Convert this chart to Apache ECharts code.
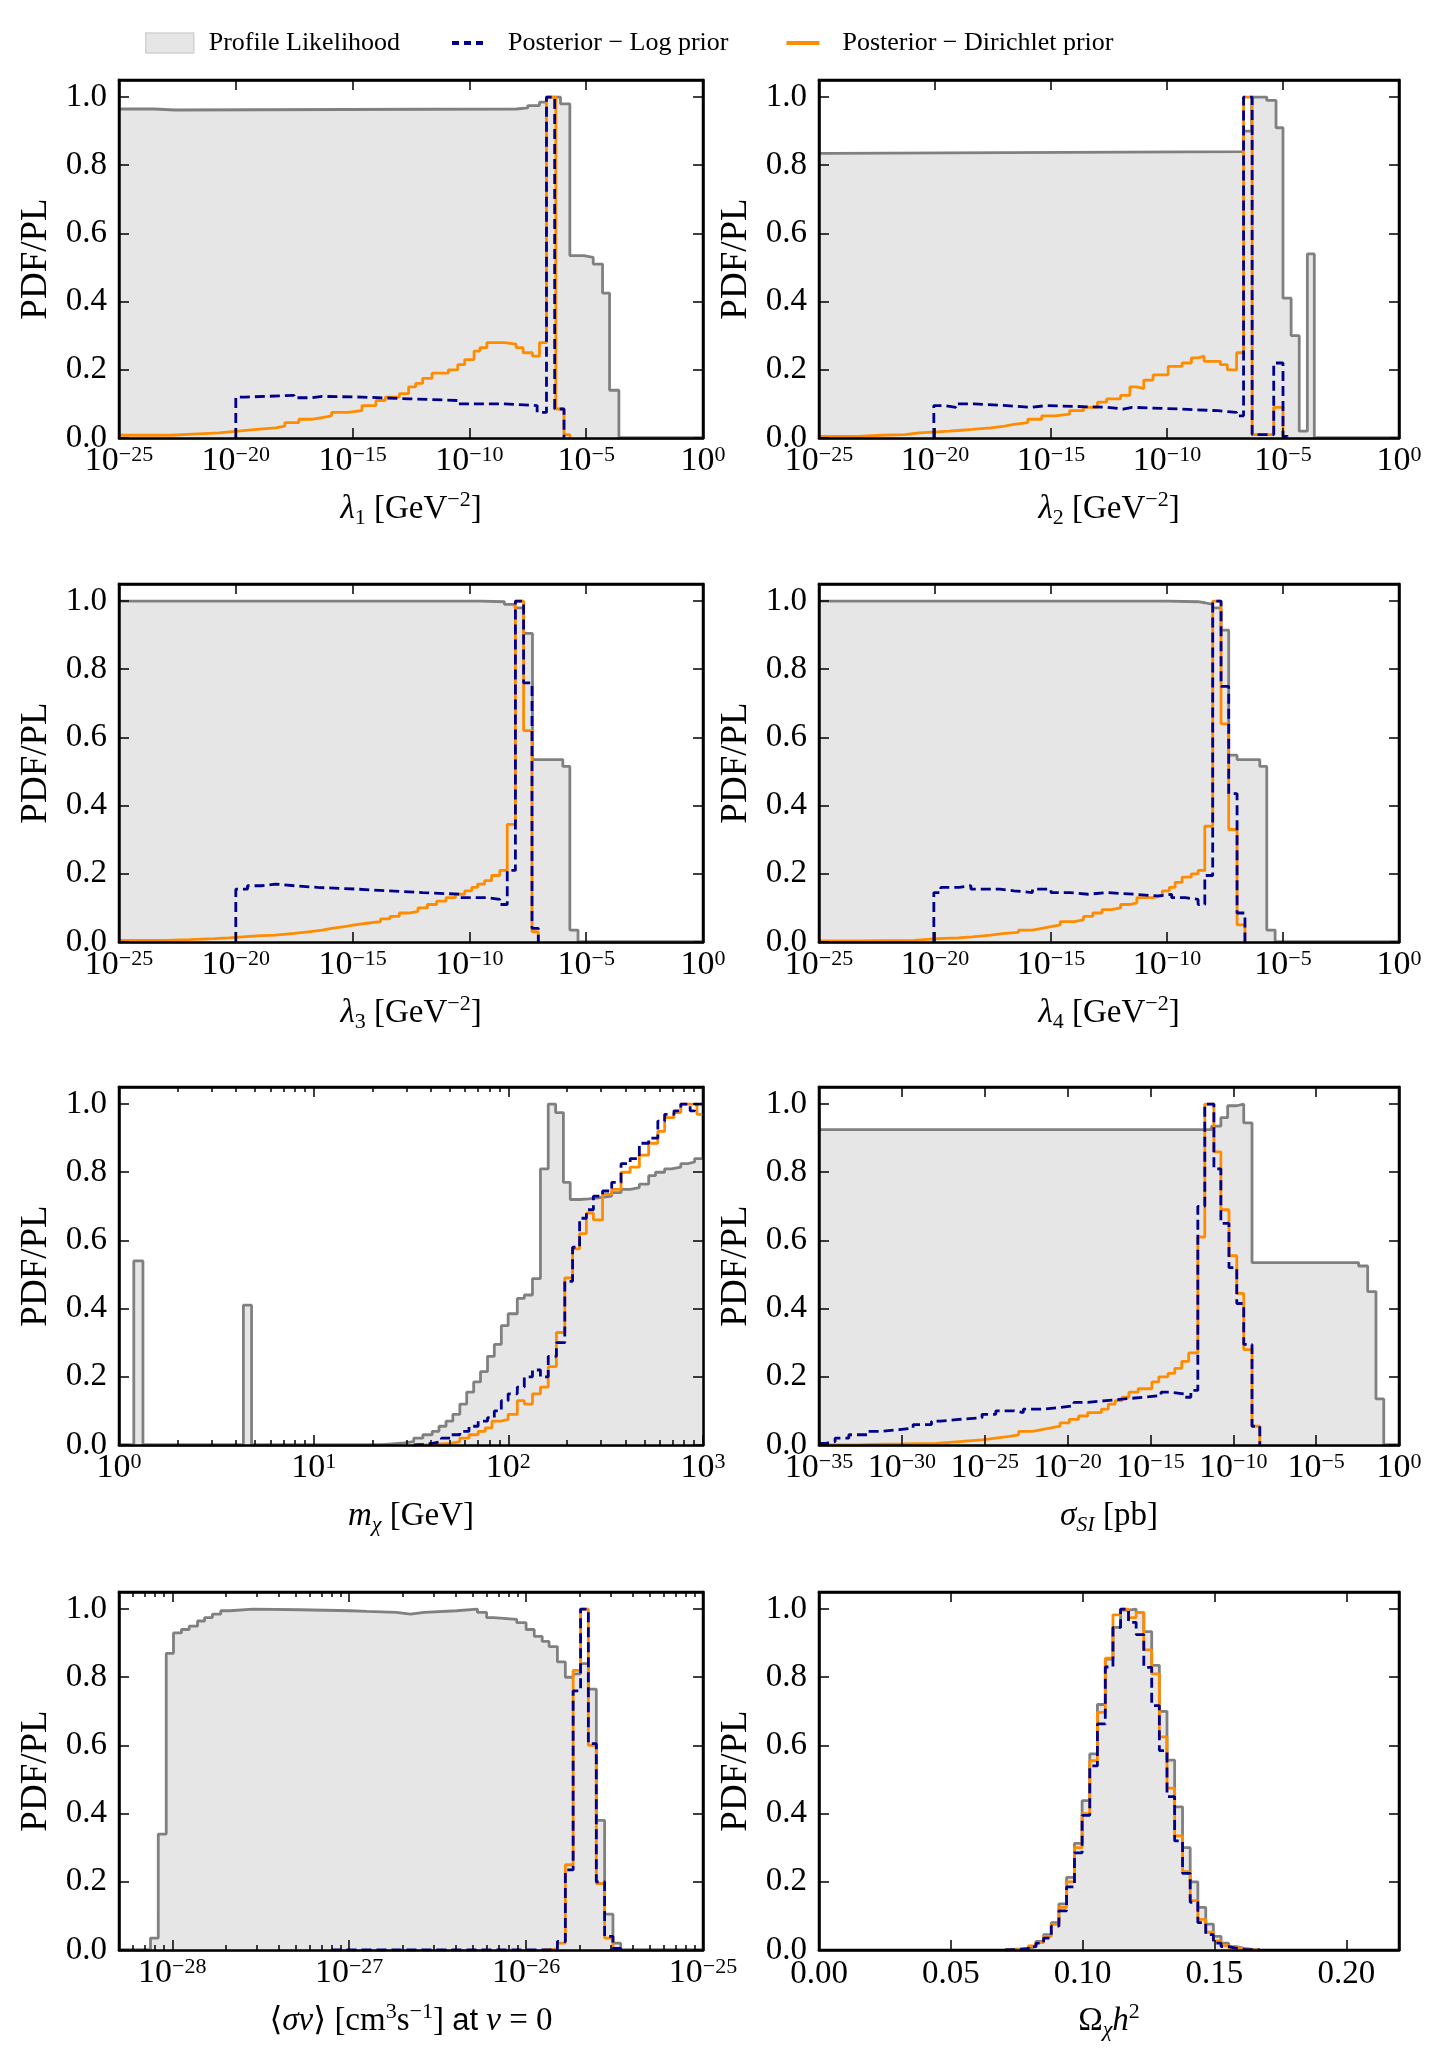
<!DOCTYPE html>
<html><head><meta charset="utf-8">
<script src="https://cdn.jsdelivr.net/npm/echarts@6/dist/echarts.min.js"></script>
<style>html,body{margin:0;padding:0;background:#fff}#c{width:1443px;height:2062px}</style>
</head><body><div id="c"></div>
<script>
// ---------------- tick labels / axis values ----------------
const lamTicks = [-25, -20, -15, -10, -5, 0];
const sigTicks = [-35, -30, -25, -20, -15, -10, -5, 0];
const mchiTicks = [0, 1, 2, 3];
const svTicks = [-28, -27, -26, -25];
const omegaTicks = [0, 0.05, 0.10, 0.15, 0.20];
const yTicks = [0, 0.2, 0.4, 0.6, 0.8, 1.0];
const seriesNames = ['Profile Likelihood', 'Posterior \u2212 Log prior', 'Posterior \u2212 Dirichlet prior'];

// ---------------- data: [log10(x) bin start, height] step breakpoints ----------------
const lam1PL = [[-25,0.965],[-23.5,0.962],[-22.6,0.965],[-8.0,0.968],[-7.5,0.975],[-7.0,0.985],[-6.7,1.0],[-6.1,0.98],[-5.7,0.535],[-5.1,0.53],[-4.7,0.51],[-4.3,0.425],[-4.0,0.14],[-3.6,0],[0,0]];
const lam1Log = [[-20,0.12],[-19.6,0.125],[-17.5,0.118],[-16.8,0.122],[-16.3,0.12],[-14.6,0.115],[-12.6,0.11],[-10.5,0.1],[-8.5,0.095],[-7.1,0.075],[-6.7,1.0],[-6.35,0.085],[-5.95,0]];
const lam1Dir = [[-25,0.008],[-22.8,0.012],[-21.6,0.015],[-20.7,0.02],[-19.9,0.025],[-19.1,0.03],[-18.3,0.035],[-17.9,0.045],[-17.3,0.055],[-16.7,0.06],[-16.3,0.065],[-15.9,0.075],[-15.2,0.08],[-14.6,0.095],[-14.0,0.11],[-13.6,0.12],[-13.0,0.13],[-12.6,0.15],[-12.3,0.16],[-12.0,0.175],[-11.6,0.19],[-10.9,0.2],[-10.5,0.215],[-10.2,0.23],[-9.8,0.255],[-9.55,0.265],[-9.25,0.28],[-8.5,0.275],[-8.0,0.265],[-7.7,0.25],[-7.3,0.24],[-7.0,0.28],[-6.7,1.0],[-6.3,0.085],[-5.95,0.01],[-5.7,0]];

const lam2PL = [[-25,0.835],[-24.5,0.84],[-6.7,0.9],[-6.35,1.0],[-5.7,0.99],[-5.3,0.91],[-5.0,0.41],[-4.65,0.3],[-4.3,0.02],[-3.95,0.54],[-3.65,0],[0,0]];
const lam2Log = [[-20.05,0.095],[-19.6,0.09],[-19.1,0.1],[-18.3,0.095],[-16.9,0.09],[-15.9,0.095],[-15.2,0.09],[-12.6,0.085],[-11.9,0.09],[-11.5,0.085],[-9.5,0.08],[-7.8,0.075],[-7.0,0.065],[-6.7,1.0],[-6.33,0.01],[-5.4,0.22],[-5.0,0.005],[-4.8,0]];
const lam2Dir = [[-25,0.005],[-23.3,0.008],[-22.3,0.01],[-21.3,0.015],[-20.7,0.018],[-19.9,0.02],[-19.4,0.022],[-19.0,0.025],[-18.4,0.03],[-17.6,0.035],[-17.0,0.04],[-16.6,0.045],[-16.0,0.055],[-15.4,0.065],[-14.8,0.07],[-14.2,0.08],[-13.6,0.09],[-13.0,0.105],[-12.6,0.115],[-12.0,0.125],[-11.6,0.15],[-11.3,0.145],[-11.0,0.17],[-10.6,0.185],[-9.95,0.21],[-9.35,0.22],[-8.95,0.235],[-8.65,0.24],[-8.4,0.225],[-7.7,0.215],[-7.4,0.2],[-7.0,0.25],[-6.7,1.0],[-6.33,0.01],[-5.4,0.09],[-5.0,0]];

const lam3PL = [[-25,1.0],[-9.5,0.998],[-8.5,0.99],[-8.05,0.98],[-7.68,0.905],[-7.3,0.535],[-6.0,0.515],[-5.7,0.035],[-5.35,0],[0,0]];
const lam3Log = [[-20,0.155],[-19.5,0.165],[-18.9,0.17],[-18.3,0.165],[-17.5,0.16],[-16.5,0.155],[-14.8,0.15],[-13.4,0.145],[-12.0,0.14],[-10.4,0.13],[-9.2,0.125],[-8.7,0.11],[-8.38,0.21],[-8.03,1.0],[-7.68,0.76],[-7.32,0.04],[-7.05,0]];
const lam3Dir = [[-25,0.005],[-23,0.007],[-22,0.01],[-20.9,0.012],[-20.3,0.015],[-19.7,0.018],[-19.1,0.02],[-18.3,0.025],[-17.5,0.03],[-16.9,0.035],[-16.3,0.04],[-15.9,0.045],[-15.35,0.05],[-14.9,0.055],[-14.4,0.06],[-13.8,0.068],[-13.4,0.075],[-13.0,0.085],[-12.6,0.09],[-12.2,0.1],[-11.8,0.11],[-11.4,0.12],[-11.0,0.13],[-10.6,0.14],[-10.2,0.15],[-9.9,0.16],[-9.65,0.17],[-9.35,0.18],[-9.05,0.195],[-8.7,0.21],[-8.38,0.345],[-8.03,1.0],[-7.68,0.62],[-7.32,0.03],[-7.05,0]];

const lam4PL = [[-25,1.0],[-10,0.998],[-8.66,0.995],[-8.37,0.99],[-8.03,0.98],[-7.67,0.915],[-7.34,0.548],[-6.98,0.535],[-6.0,0.515],[-5.7,0.035],[-5.34,0],[0,0]];
const lam4Log = [[-20.05,0.145],[-19.75,0.16],[-18.95,0.165],[-18.45,0.155],[-17.2,0.15],[-16.6,0.145],[-15.8,0.155],[-15.0,0.145],[-14.2,0.14],[-13.4,0.145],[-12.6,0.14],[-11.4,0.135],[-10.4,0.14],[-9.8,0.13],[-9.2,0.125],[-8.66,0.11],[-8.37,0.195],[-8.03,1.0],[-7.67,0.75],[-7.34,0.435],[-6.98,0.085],[-6.64,0]];
const lam4Dir = [[-25,0.003],[-23.3,0.005],[-20.9,0.01],[-19.9,0.012],[-19.0,0.015],[-18.4,0.02],[-17.6,0.025],[-17.0,0.028],[-16.4,0.035],[-15.8,0.04],[-15.4,0.045],[-15.0,0.05],[-14.6,0.06],[-14.0,0.065],[-13.6,0.075],[-13.2,0.085],[-12.8,0.095],[-12.4,0.1],[-12.0,0.11],[-11.6,0.115],[-11.3,0.13],[-10.6,0.135],[-10.2,0.15],[-9.9,0.16],[-9.65,0.175],[-9.35,0.19],[-8.95,0.2],[-8.66,0.21],[-8.37,0.34],[-8.03,1.0],[-7.67,0.64],[-7.34,0.33],[-6.98,0.05],[-6.64,0]];

const mchiPL = [[0,0],[0.076,0.54],[0.123,0],[0.639,0.41],[0.681,0],[1.325,0.002],[1.372,0.004],[1.419,0.006],[1.467,0.01],[1.514,0.02],[1.561,0.03],[1.609,0.04],[1.644,0.055],[1.68,0.07],[1.715,0.09],[1.751,0.12],[1.786,0.155],[1.822,0.185],[1.857,0.215],[1.893,0.26],[1.928,0.295],[1.964,0.35],[1.999,0.385],[2.046,0.43],[2.082,0.44],[2.124,0.488],[2.165,0.81],[2.205,1.0],[2.243,0.975],[2.283,0.77],[2.318,0.72],[2.366,0.722],[2.413,0.725],[2.46,0.73],[2.531,0.74],[2.579,0.75],[2.626,0.755],[2.673,0.765],[2.721,0.79],[2.756,0.8],[2.803,0.81],[2.839,0.815],[2.886,0.825],[2.922,0.83],[2.957,0.84],[3.0,0.84]];
const mchiLog = [[1.514,0.002],[1.561,0.005],[1.609,0.01],[1.656,0.02],[1.703,0.03],[1.751,0.04],[1.798,0.055],[1.845,0.07],[1.893,0.08],[1.928,0.1],[1.964,0.13],[1.999,0.15],[2.046,0.17],[2.082,0.2],[2.124,0.22],[2.165,0.2],[2.205,0.26],[2.247,0.3],[2.29,0.48],[2.33,0.58],[2.366,0.665],[2.401,0.69],[2.437,0.73],[2.484,0.745],[2.531,0.77],[2.579,0.825],[2.626,0.84],[2.673,0.885],[2.721,0.9],[2.768,0.95],[2.803,0.97],[2.851,0.98],[2.886,1.0],[2.934,0.98],[2.957,1.0],[3.0,1.0]];
const mchiDir = [[1.514,0.001],[1.609,0.003],[1.656,0.005],[1.703,0.01],[1.751,0.02],[1.798,0.03],[1.845,0.04],[1.881,0.05],[1.916,0.07],[1.964,0.075],[1.999,0.09],[2.046,0.13],[2.082,0.12],[2.124,0.15],[2.165,0.17],[2.205,0.23],[2.247,0.33],[2.29,0.49],[2.33,0.575],[2.366,0.62],[2.401,0.68],[2.437,0.66],[2.484,0.735],[2.531,0.75],[2.579,0.8],[2.626,0.815],[2.673,0.85],[2.721,0.885],[2.768,0.92],[2.803,0.96],[2.851,0.975],[2.886,1.0],[2.969,0.97],[3.0,0.97]];

const sigPL = [[-35,0.925],[-11.31,0.935],[-10.75,0.96],[-10.34,0.995],[-9.79,1.0],[-9.37,0.945],[-8.87,0.535],[-2.44,0.525],[-1.89,0.45],[-1.39,0.135],[-0.92,0],[0,0]];
const sigLog = [[-35,0.005],[-34.58,0.01],[-34.03,0.02],[-33.2,0.03],[-32.09,0.04],[-31.26,0.045],[-30.15,0.05],[-29.32,0.06],[-28.21,0.07],[-27.66,0.075],[-26.55,0.08],[-25.16,0.09],[-24.33,0.1],[-23.22,0.095],[-22.67,0.105],[-21.56,0.11],[-20.45,0.115],[-19.62,0.125],[-18.79,0.13],[-17.68,0.135],[-16.57,0.14],[-15.47,0.145],[-14.36,0.155],[-13.8,0.15],[-12.97,0.14],[-12.56,0.16],[-12.14,0.7],[-11.72,1.0],[-11.17,0.81],[-10.75,0.65],[-10.26,0.52],[-9.79,0.415],[-9.37,0.295],[-8.87,0.055],[-8.4,0]];
const sigDir = [[-35,0],[-32.64,0.002],[-31.8,0.003],[-29.87,0.005],[-27.93,0.008],[-27.1,0.012],[-25.99,0.015],[-25.16,0.02],[-24.33,0.025],[-23.5,0.03],[-22.95,0.04],[-22.12,0.045],[-21.56,0.05],[-21.0,0.055],[-20.45,0.065],[-19.9,0.075],[-19.34,0.085],[-18.79,0.095],[-17.96,0.105],[-17.54,0.12],[-17.13,0.13],[-16.71,0.14],[-16.3,0.155],[-15.74,0.165],[-14.91,0.185],[-14.5,0.2],[-13.94,0.21],[-13.53,0.225],[-13.11,0.245],[-12.69,0.27],[-12.14,0.61],[-11.72,1.0],[-11.17,0.86],[-10.75,0.69],[-10.26,0.555],[-9.79,0.445],[-9.37,0.28],[-8.87,0.055],[-8.4,0]];

const svPL = [[-28.301,0],[-28.123,0.035],[-28.079,0.34],[-28.034,0.87],[-27.993,0.93],[-27.948,0.94],[-27.904,0.95],[-27.857,0.965],[-27.817,0.975],[-27.773,0.985],[-27.726,0.995],[-27.674,1.0],[-27.543,0.998],[-27.281,0.995],[-26.994,0.993],[-26.9,0.99],[-26.733,0.985],[-26.654,0.99],[-26.576,0.995],[-26.393,1.0],[-26.275,0.99],[-26.223,0.975],[-26.183,0.97],[-26.053,0.96],[-26.0,0.94],[-25.954,0.92],[-25.909,0.905],[-25.87,0.89],[-25.823,0.845],[-25.778,0.8],[-25.734,0.81],[-25.692,0.84],[-25.648,0.765],[-25.603,0.38],[-25.556,0.105],[-25.509,0.02],[-25.465,0],[-25,0]];
const svLog = [[-27.1,0],[-25.87,0.003],[-25.823,0.025],[-25.778,0.235],[-25.734,0.76],[-25.692,1.0],[-25.648,0.605],[-25.603,0.2],[-25.556,0.04],[-25.509,0.005],[-25.465,0]];
const svDir = [[-25.9,0],[-25.87,0.003],[-25.823,0.02],[-25.778,0.25],[-25.734,0.82],[-25.692,1.0],[-25.648,0.6],[-25.603,0.195],[-25.556,0.035],[-25.509,0.005],[-25.465,0]];

const omegaEdges = [0.0706,0.0735,0.0764,0.0794,0.0823,0.0852,0.0881,0.0910,0.0939,0.0969,0.0998,0.1027,0.1056,0.1086,0.1115,0.1144,0.1174,0.1203,0.1232,0.1262,0.1291,0.1320,0.1349,0.1379,0.1408,0.1437,0.1467,0.1496,0.1525,0.1554,0.1584,0.1613,0.1642,0.1672];
const omegaPL = [0.002,0.003,0.005,0.01,0.025,0.045,0.08,0.135,0.213,0.313,0.438,0.575,0.72,0.853,0.946,0.997,1.0,0.99,0.934,0.835,0.7,0.557,0.42,0.3,0.2,0.125,0.076,0.04,0.02,0.01,0.005,0.002,0.001];
const omegaLog = [0.001,0.002,0.004,0.01,0.02,0.035,0.07,0.115,0.185,0.285,0.395,0.54,0.663,0.83,0.946,1.0,0.961,0.925,0.829,0.717,0.585,0.45,0.32,0.225,0.14,0.08,0.045,0.02,0.01,0.005,0.002,0.001,0];
const omegaDir = [0.001,0.002,0.005,0.012,0.022,0.04,0.075,0.125,0.2,0.3,0.4,0.555,0.697,0.856,0.983,1.0,0.975,0.99,0.88,0.81,0.625,0.475,0.335,0.23,0.145,0.09,0.052,0.027,0.013,0.007,0.003,0.001,0];

// ---------------- helpers ----------------
const SERIF = "'Liberation Serif','DejaVu Serif',serif";
const SANS = "'Liberation Sans','DejaVu Sans',sans-serif";
function histPairs(edges, h) {
  const out = h.map((v, i) => [edges[i], v]);
  out.push([edges[edges.length - 1], h[h.length - 1]]);
  out.push([edges[edges.length - 1], 0]);
  return out;
}
function minorLog(lo, hi) {
  const out = [];
  for (let n = Math.floor(lo); n < Math.ceil(hi); n++) {
    for (let k = 2; k <= 9; k++) {
      const v = n + Math.log10(k);
      if (v > lo && v < hi) out.push(v);
    }
  }
  return out;
}
function stepData(pairs, xmin) {
  const d = pairs.slice();
  if (d[0][0] > xmin) d.unshift([d[0][0], 0]);
  return d;
}

const panels = [
  {col:0,row:0,xmin:-25,xmax:0,major:lamTicks,minor:null,logx:true,name:'{i|λ}{sub|1} [GeV{sup|−2}]',pl:lam1PL,post:lam1Log,dir:lam1Dir},
  {col:1,row:0,xmin:-25,xmax:0,major:lamTicks,minor:null,logx:true,name:'{i|λ}{sub|2} [GeV{sup|−2}]',pl:lam2PL,post:lam2Log,dir:lam2Dir},
  {col:0,row:1,xmin:-25,xmax:0,major:lamTicks,minor:null,logx:true,name:'{i|λ}{sub|3} [GeV{sup|−2}]',pl:lam3PL,post:lam3Log,dir:lam3Dir},
  {col:1,row:1,xmin:-25,xmax:0,major:lamTicks,minor:null,logx:true,name:'{i|λ}{sub|4} [GeV{sup|−2}]',pl:lam4PL,post:lam4Log,dir:lam4Dir},
  {col:0,row:2,xmin:0,xmax:3,major:mchiTicks,minor:minorLog(0,3),logx:true,name:'{i|m}{subi|χ} [GeV]',pl:mchiPL,post:mchiLog,dir:mchiDir},
  {col:1,row:2,xmin:-35,xmax:0,major:sigTicks,minor:null,logx:true,name:'{i|σ}{subi|SI} [pb]',pl:sigPL,post:sigLog,dir:sigDir},
  {col:0,row:3,xmin:-28.301,xmax:-25,major:svTicks,minor:minorLog(-28.301,-25),logx:true,name:'⟨{i|σv}⟩ [cm{sup|3}s{sup|−1}] {sans|at} {i|v} = 0',pl:svPL,post:svLog,dir:svDir},
  {col:1,row:3,xmin:0,xmax:0.22,major:omegaTicks,minor:null,logx:false,name:'Ω{subi|χ}{i|h}{sup|2}',pl:histPairs(omegaEdges,omegaPL),post:histPairs(omegaEdges,omegaLog),dir:histPairs(omegaEdges,omegaDir)}
];

const COLX = [119, 819], COLW = [584, 580], ROWY = [80, 584, 1087, 1592], H = 358;
const nameRich = {
  i: {fontFamily: SERIF, fontStyle: 'italic', fontSize: 33, lineHeight: 40, color: '#000'},
  sub: {fontFamily: SERIF, fontSize: 22, lineHeight: 24, verticalAlign: 'bottom', color: '#000'},
  subi: {fontFamily: SERIF, fontStyle: 'italic', fontSize: 22, lineHeight: 24, verticalAlign: 'bottom', color: '#000'},
  sup: {fontFamily: SERIF, fontSize: 22, lineHeight: 24, verticalAlign: 'top', color: '#000'},
  sans: {fontFamily: SANS, fontSize: 31, lineHeight: 40, color: '#000'}
};
const tickRich = {
  b: {fontFamily: SERIF, fontSize: 34, lineHeight: 34, color: '#000'},
  s: {fontFamily: SERIF, fontSize: 22, lineHeight: 22, verticalAlign: 'top', color: '#000'}
};
function fmtExp(v) {
  const r = Math.round(v);
  return '{b|10}{s|' + (r < 0 ? '\u2212' + Math.abs(r) : String(r)) + '}';
}

const grid = [], xAxis = [], yAxis = [], series = [];
const FRAME = {color: '#000', width: 2.5};
const TICK = {color: '#000', width: 1.5};

panels.forEach((p, gi) => {
  grid.push({left: COLX[p.col], top: ROWY[p.row], width: COLW[p.col], height: H, show: true, borderColor: '#000', borderWidth: 2.5, backgroundColor: 'transparent'});
  const xMainIdx = xAxis.length;
  const baseX = {type: 'value', gridIndex: gi, min: p.xmin, max: p.xmax, z: 5, splitLine: {show: false}};
  xAxis.push(Object.assign({}, baseX, {
    position: 'bottom',
    axisLine: {show: true, onZero: false, lineStyle: FRAME},
    axisTick: {show: true, inside: true, length: 10, customValues: p.major, lineStyle: TICK},
    axisLabel: p.logx ? {show: true, customValues: p.major, margin: 6, formatter: fmtExp, rich: tickRich}
                      : {show: true, customValues: p.major, margin: 8, formatter: v => v.toFixed(2), fontFamily: SERIF, fontSize: 33, color: '#000'},
    name: p.name, nameLocation: 'middle', nameGap: 51,
    nameTextStyle: {fontFamily: SERIF, fontSize: 33, lineHeight: 40, color: '#000', rich: nameRich}
  }));
  xAxis.push(Object.assign({}, baseX, {
    position: 'top',
    axisLine: {show: true, onZero: false, lineStyle: FRAME},
    axisTick: {show: true, inside: true, length: 10, customValues: p.major, lineStyle: TICK},
    axisLabel: {show: false}
  }));
  if (p.minor) {
    ['bottom', 'top'].forEach(pos => xAxis.push(Object.assign({}, baseX, {
      position: pos,
      axisLine: {show: false, onZero: false},
      axisTick: {show: true, inside: true, length: 5, customValues: p.minor, lineStyle: TICK},
      axisLabel: {show: false}
    })));
  }
  const yMainIdx = yAxis.length;
  const baseY = {type: 'value', gridIndex: gi, min: 0, max: 1.05, z: 5, splitLine: {show: false}};
  yAxis.push(Object.assign({}, baseY, {
    position: 'left',
    axisLine: {show: true, onZero: false, lineStyle: FRAME},
    axisTick: {show: true, inside: true, length: 10, customValues: yTicks, lineStyle: TICK},
    axisLabel: {show: true, customValues: yTicks, margin: 12, formatter: v => v.toFixed(1), fontFamily: SERIF, fontSize: 33, color: '#000'},
    name: 'PDF/PL', nameLocation: 'middle', nameGap: 64,
    nameTextStyle: {fontFamily: SERIF, fontSize: 37, color: '#000'}
  }));
  yAxis.push(Object.assign({}, baseY, {
    position: 'right',
    axisLine: {show: true, onZero: false, lineStyle: FRAME},
    axisTick: {show: true, inside: true, length: 10, customValues: yTicks, lineStyle: TICK},
    axisLabel: {show: false}
  }));
  const common = {type: 'line', xAxisIndex: xMainIdx, yAxisIndex: yMainIdx, step: 'end', symbol: 'none', showSymbol: false, silent: true, clip: true, animation: false};
  series.push(Object.assign({}, common, {
    name: seriesNames[0], data: stepData(p.pl, p.xmin), z: 2,
    lineStyle: {color: '#808080', width: 2.8}, itemStyle: {color: '#808080'},
    areaStyle: {color: '#e6e6e6', opacity: 1}
  }));
  series.push(Object.assign({}, common, {
    name: seriesNames[2], data: stepData(p.dir, p.xmin), z: 3,
    lineStyle: {color: '#ff8c00', width: 2.8}, itemStyle: {color: '#ff8c00'}
  }));
  series.push(Object.assign({}, common, {
    name: seriesNames[1], data: stepData(p.post, p.xmin), z: 4,
    lineStyle: {color: '#00008b', width: 2.8, type: [10, 5]}, itemStyle: {color: '#00008b'}
  }));
});

const legendText = {fontFamily: SERIF, fontSize: 26, lineHeight: 30, color: '#000'};
const chart = echarts.init(document.getElementById('c'), null, {renderer: 'canvas'});
chart.setOption({
  backgroundColor: '#fff',
  animation: false,
  legend: [
    {
      top: 23, left: 140, itemWidth: 48, itemHeight: 20,
      textStyle: Object.assign({}, legendText, {padding: [0, 0, 0, 10]}),
      data: [{name: seriesNames[0], icon: 'rect', itemStyle: {color: '#e6e6e6', borderColor: '#d2d2d2', borderWidth: 1.5}}]
    },
    {
      top: 23, left: 445, itemWidth: 33, itemHeight: 20, itemGap: 56,
      textStyle: Object.assign({}, legendText, {padding: [0, 0, 0, 18]}),
      data: [
        {name: seriesNames[1], itemStyle: {opacity: 0}, lineStyle: {width: 4, type: [7, 5], color: '#00008b'}},
        {name: seriesNames[2], itemStyle: {opacity: 0}, lineStyle: {width: 4, color: '#ff8c00'}}
      ]
    }
  ],
  grid, xAxis, yAxis, series
});
</script></body></html>
